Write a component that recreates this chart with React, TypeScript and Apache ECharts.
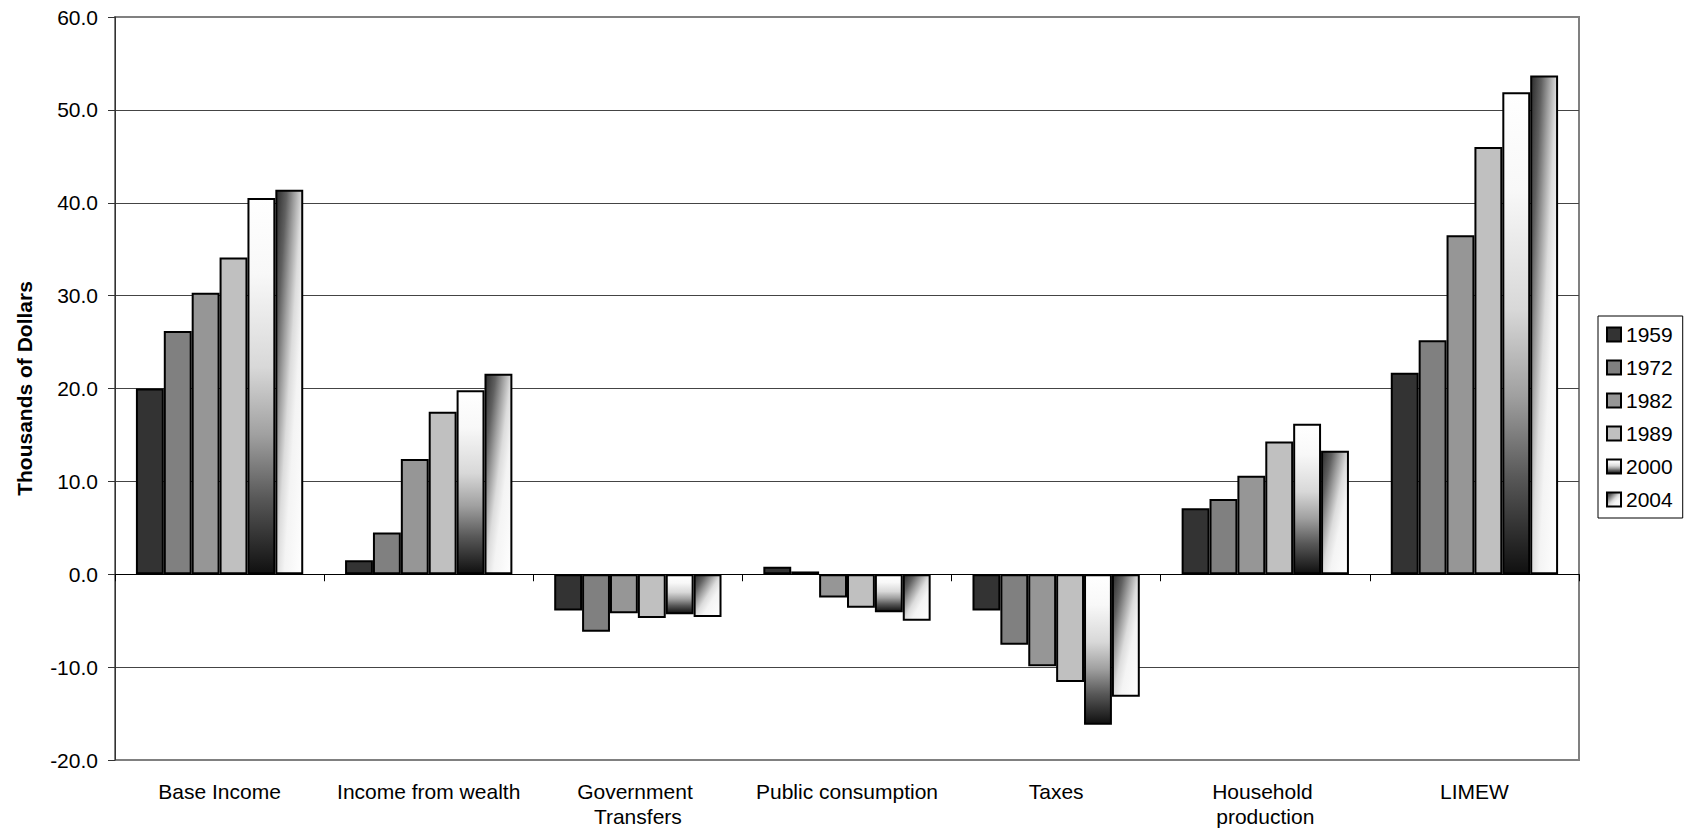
import React, { useEffect, useRef } from 'react';
import * as echarts from 'echarts';

const categories = [
  'Base Income',
  'Income from wealth',
  'Government Transfers',
  'Public consumption',
  'Taxes',
  'Household production',
  'LIMEW',
];
const years = ['1959', '1972', '1982', '1989', '2000', '2004'];

const v1959 = [20.0, 1.5, -3.9, 0.8, -3.9, 7.1, 21.7];
const v1972 = [26.2, 4.5, -6.2, 0.3, -7.6, 8.1, 25.2];
const v1982 = [30.3, 12.4, -4.2, -2.5, -9.9, 10.6, 36.5];
const v1989 = [34.1, 17.5, -4.7, -3.6, -11.6, 14.3, 46.0];
const v2000 = [40.5, 19.8, -4.3, -4.1, -16.2, 16.2, 51.9];
const v2004 = [41.4, 21.6, -4.6, -5.0, -13.2, 13.3, 53.7];

const seriesValues = [v1959, v1972, v1982, v1989, v2000, v2004];

const yMin = -20;
const yMax = 60;
const yInterval = 10;

const FONT = 'Arial, "Liberation Sans", sans-serif';

export default function App() {
  const ref = useRef<HTMLDivElement>(null);

  useEffect(() => {
    const chart = echarts.init(ref.current!, null, { renderer: 'svg' });

    const fills: any[] = [
      '#333333',
      '#808080',
      '#969696',
      '#c0c0c0',
      new echarts.graphic.LinearGradient(0, 0, 0, 1, [
        { offset: 0, color: '#ffffff' },
        { offset: 0.2, color: '#f8f8f8' },
        { offset: 0.45, color: '#d8d8d8' },
        { offset: 0.63, color: '#a0a0a0' },
        { offset: 0.8, color: '#585858' },
        { offset: 1, color: '#101010' },
      ]),
      new echarts.graphic.LinearGradient(0, 0, 1, 1, [
        { offset: 0, color: '#2c2c2c' },
        { offset: 0.2, color: '#606060' },
        { offset: 0.35, color: '#a0a0a0' },
        { offset: 0.5, color: '#dcdcdc' },
        { offset: 0.65, color: '#f4f4f4' },
        { offset: 1, color: '#ffffff' },
      ]),
    ];

    const option: any = {
      animation: false,
      backgroundColor: '#ffffff',
      textStyle: { fontFamily: FONT, color: '#000' },
      grid: {
        left: 115,
        right: 105,
        top: 17,
        bottom: 73,
        show: true,
        borderColor: '#808080',
        borderWidth: 2,
        backgroundColor: 'transparent',
      },
      legend: {
        data: years,
        orient: 'vertical',
        left: 1598,
        top: 316,
        padding: [8, 10, 8, 8],
        itemGap: 12,
        itemWidth: 14,
        itemHeight: 14,
        icon: 'rect',
        borderColor: '#000',
        borderWidth: 1,
        backgroundColor: '#fff',
        itemStyle: { borderColor: '#000', borderWidth: 2 },
        textStyle: { fontSize: 21, color: '#000', fontFamily: FONT },
      },
      xAxis: [
        {
          type: 'category',
          data: categories,
          position: 'bottom',
          axisLine: { show: false, onZero: false },
          axisTick: { show: false },
          splitLine: { show: false },
          axisLabel: {
            interval: 0,
            margin: 19,
            fontSize: 21,
            lineHeight: 25,
            color: '#000',
            width: 196,
            overflow: 'break',
            fontFamily: FONT,
          },
        },
        {
          type: 'category',
          data: categories,
          position: 'top',
          axisLine: { show: true, onZero: true, lineStyle: { color: '#000', width: 1 } },
          axisTick: { show: true, inside: true, length: 7, interval: 0, lineStyle: { color: '#000' } },
          axisLabel: { show: false },
          splitLine: { show: false },
        },
      ],
      yAxis: {
        type: 'value',
        min: yMin,
        max: yMax,
        interval: yInterval,
        name: 'Thousands of Dollars',
        nameLocation: 'middle',
        nameGap: 80,
        nameTextStyle: { fontSize: 21, fontWeight: 'bold', color: '#000', fontFamily: FONT },
        axisLine: { show: true, lineStyle: { color: '#333', width: 1 } },
        axisTick: { show: true, length: 7, lineStyle: { color: '#333' } },
        axisLabel: {
          margin: 17,
          fontSize: 21,
          color: '#000',
          fontFamily: FONT,
          formatter: (v: number) => v.toFixed(1),
        },
        splitLine: {
          show: true,
          showMinLine: false,
          showMaxLine: false,
          lineStyle: { color: '#444', width: 1 },
        },
      },
      series: years.map((y, i) => ({
        name: y,
        type: 'bar',
        xAxisIndex: 0,
        data: seriesValues[i],
        barGap: '0%',
        barCategoryGap: '20%',
        itemStyle: { color: fills[i], borderColor: '#000', borderWidth: 2 },
      })),
    };

    chart.setOption(option);
    return () => chart.dispose();
  }, []);

  return (
    <div
      ref={ref}
      style={{ position: 'absolute', left: 0, top: 0, width: 1684, height: 833, background: '#fff' }}
    />
  );
}
